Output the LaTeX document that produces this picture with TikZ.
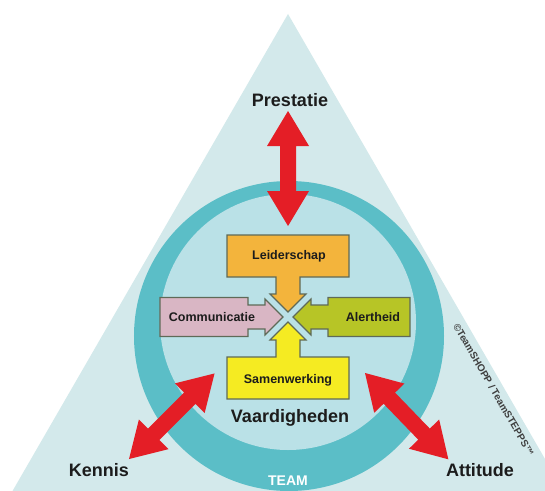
\documentclass[tikz,border=0pt]{standalone}
\usepackage{fontspec}
\setmainfont{Liberation Sans}
\usepackage{tikz}

\definecolor{tribg}{HTML}{D3E9EB}
\definecolor{ringteal}{HTML}{5BBEC7}
\definecolor{innerbg}{HTML}{BAE1E7}
\definecolor{arrowred}{HTML}{E41E26}
\definecolor{leadorange}{HTML}{F3B43C}
\definecolor{commpink}{HTML}{D9B6C4}
\definecolor{alertlime}{HTML}{B7C526}
\definecolor{teamyellow}{HTML}{F5EB22}
\definecolor{boxline}{HTML}{5F6A58}
\definecolor{ink}{HTML}{1C1C1C}

\tikzset{
  % red double arrow, laid along +x, #1 = length
  pics/twoway/.style={code={
    \fill[arrowred] (0,0) -- (35,21) -- (35,8) -- ({#1-35},8) -- ({#1-35},21) -- (#1,0)
      -- ({#1-35},-21) -- ({#1-35},-8) -- (35,-8) -- (35,-21) -- cycle;
  }},
  % skill box pointing to the origin from +x: colour, half width, depth
  pics/skill/.style n args={3}{code={
    \draw[line width=1.2pt, draw=boxline, fill=#1, line join=miter]
      (5,0) -- (23,18) -- (23,12) -- (40,12) -- (40,#2) -- ({40+#3},#2)
      -- ({40+#3},-#2) -- (40,-#2) -- (40,-12) -- (23,-12) -- (23,-18) -- cycle;
  }}
}

\begin{document}
\begin{tikzpicture}[x=1pt, y=1pt,
    corner/.style={font=\fontsize{18}{20}\selectfont\bfseries, text=ink},
    skilltext/.style={font=\fontsize{12.5}{14}\selectfont\bfseries, text=ink}]
    % Page
    \useasboundingbox (-288,-173) rectangle (257,317);
    \fill[white] (-288,-173) rectangle (257,317);
    \clip (-288,-173) rectangle (257,317);

    % Triangle
    \fill[tribg] (0,303) -- (-283,-187) -- (283,-187) -- cycle;

    % Team ring and inner disc
    \fill[ringteal] (1,-19) circle (155);
    \fill[innerbg] (0,-5) circle (128);

    % Skill boxes round the centre
    \pic[rotate=90] {skill={leadorange}{61}{42}};
    \pic[rotate=180] {skill={commpink}{19.5}{88}};
    \pic {skill={alertlime}{19.5}{82}};
    \pic[rotate=270] {skill={teamyellow}{61}{42}};

    \node[skilltext] (leiderschap) at (1,61) {Leiderschap};
    \node[skilltext] (communicatie) at (-76,0) {Communicatie};
    \node[skilltext] (alertheid) at (85,0) {Alertheid};
    \node[skilltext] (samenwerking) at (0,-63) {Samenwerking};

    % Red arrows to the corners
    \pic[rotate=90] at (0,91) {twoway=115};
    \pic[rotate=45] at (-159,-142) {twoway=121};
    \pic[rotate=-46] at (77,-56) {twoway=120};

    % Corner labels
    \node[corner] (prestatie) at (2,217) {Prestatie};
    \node[corner] (kennis) at (-189,-153) {Kennis};
    \node[corner] (attitude) at (192,-153) {Attitude};
    \node[corner] (vaardigheden) at (2,-101) {Vaardigheden};
    \node[font=\fontsize{14}{16}\selectfont\bfseries, text=white] (team) at (0,-164) {TEAM};

    % Copyright along the right side
    \node[font=\fontsize{10}{12}\selectfont\bfseries, text=ink!85, rotate=-60, anchor=north]
      (copy) at (212,-69) {\textcopyright TeamSHOPP / TeamSTEPPS\texttrademark};
\end{tikzpicture}
\end{document}
